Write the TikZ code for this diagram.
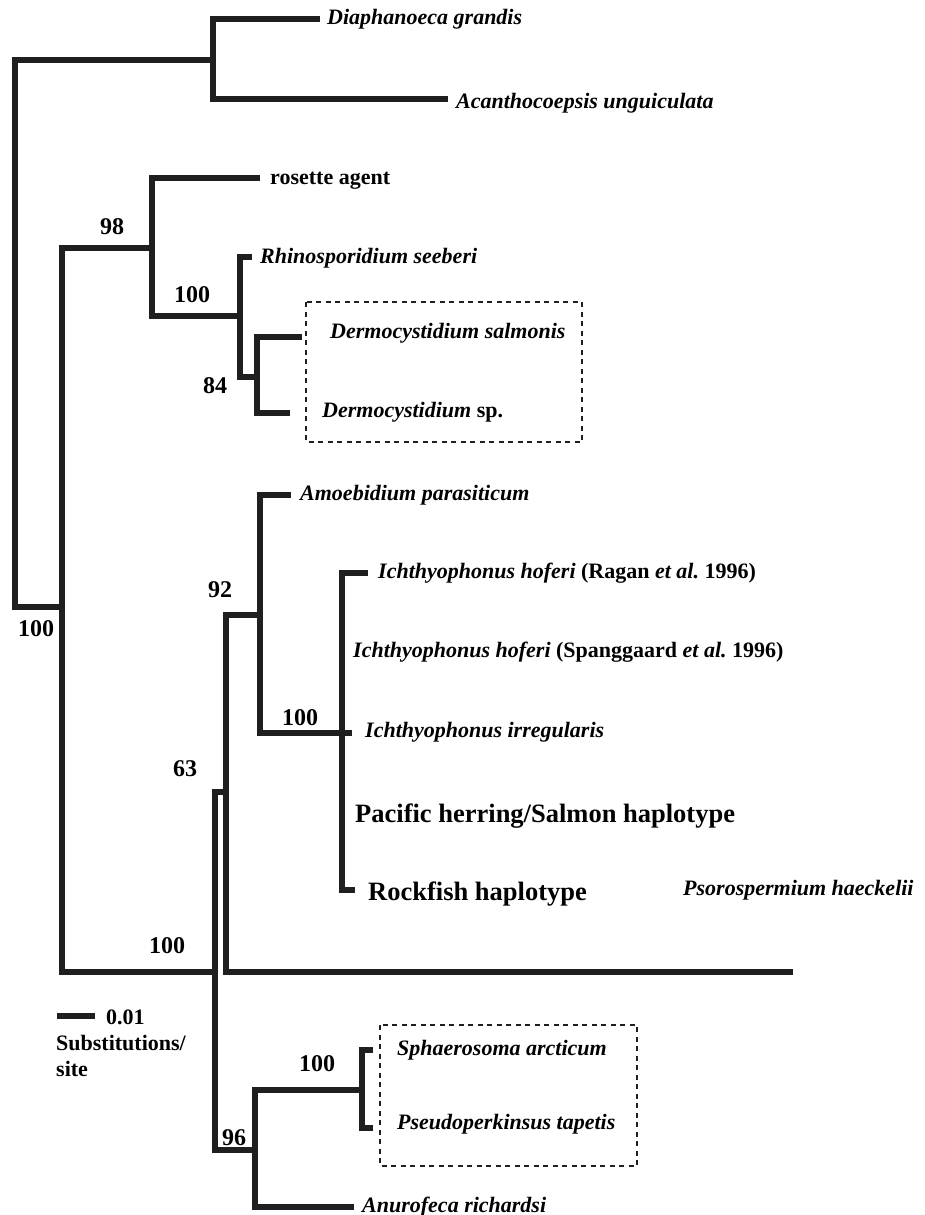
\documentclass[tikz,border=0pt]{standalone}
\usepackage{fontspec}
\setmainfont{Liberation Serif}
\begin{document}
\begin{tikzpicture}[x=1pt,y=-1pt,
  branch/.style={line width=6pt,line join=miter,line cap=butt,color=black!88},
  taxon/.style={anchor=base west,inner sep=0pt,font=\fontsize{22}{26}\selectfont\bfseries\itshape},
  plain/.style={anchor=base west,inner sep=0pt,font=\fontsize{22}{26}\selectfont\bfseries},
  big/.style={anchor=base west,inner sep=0pt,font=\fontsize{26.5}{30}\selectfont\bfseries},
  boot/.style={anchor=base,inner sep=0pt,font=\fontsize{24}{28}\selectfont\bfseries},
  groupbox/.style={line width=2pt,dash pattern=on 5pt off 4.5pt,color=black!88}]
\useasboundingbox (0,0) rectangle (924,1215);
% internal nodes
\coordinate (root) at (15,300);
\coordinate (n1) at (213,60);
\coordinate (n2) at (62,607);
\coordinate (n3) at (152,248);
\coordinate (n5) at (240,316);
\coordinate (n6) at (257,377);
\coordinate (n4) at (215,972);
\coordinate (n7) at (226,792);
\coordinate (n9) at (260,615);
\coordinate (n10) at (342,733);
\coordinate (n8) at (255,1150);
\coordinate (n11) at (362,1090);
% tips
\coordinate (tDia) at (320,19);
\coordinate (tAca) at (448,99);
\coordinate (tRos) at (260,178);
\coordinate (tRhi) at (252,257);
\coordinate (tDsa) at (302,337);
\coordinate (tDsp) at (290,413);
\coordinate (tAmo) at (291,495);
\coordinate (tIrr) at (352,733);
\coordinate (tRag) at (368,573);
\coordinate (tRoc) at (355,890);
\coordinate (tPso) at (793,972);
\coordinate (tSph) at (373,1050);
\coordinate (tPse) at (373,1128);
\coordinate (tAnu) at (354,1207);
\coordinate (sb1) at (57,1016);
\coordinate (sb2) at (95,1016);
% branches
\draw[branch] (n1) -| (root) |- (n2);
\draw[branch] (tDia) -| (n1) |- (tAca);
\draw[branch] (n3) -| (n2) |- (n4);
\draw[branch] (tRos) -| (n3) |- (n5);
\draw[branch] (tRhi) -| (n5) |- (n6);
\draw[branch] (tDsa) -| (n6) |- (tDsp);
\draw[branch] (n7) -| (n4) |- (n8);
\draw[branch] (n9) -| (n7) |- (tPso);
\draw[branch] (tAmo) -| (n9) |- (tIrr);
\draw[branch] (tRag) -| (n10) |- (tRoc);
\draw[branch] (n11) -| (n8) |- (tAnu);
\draw[branch] (tSph) -| (n11) |- (tPse);
\draw[branch] (sb1) -- (sb2);
% dashed boxes
\draw[groupbox] (306,302) rectangle (582,442);
\draw[groupbox] (380,1025) rectangle (637,1166);
% taxa
\node[taxon] (lDia) at (327,25) {Diaphanoeca grandis};
\node[taxon] (lAca) at (456,108) {Acanthocoepsis unguiculata};
\node[plain] (lRos) at (270,184) {rosette agent};
\node[taxon] (lRhi) at (260,263) {Rhinosporidium seeberi};
\node[taxon] (lDsa) at (330,338) {Dermocystidium salmonis};
\node[taxon] (lDsp) at (322,417) {Dermocystidium \upshape sp.};
\node[taxon] (lAmo) at (300,500) {Amoebidium parasiticum};
\node[taxon] (lRag) at (378,578) {Ichthyophonus hoferi \upshape(Ragan \itshape et al.\upshape\ 1996)};
\node[taxon] (lSpa) at (353,657) {Ichthyophonus hoferi \upshape(Spanggaard \itshape et al.\upshape\ 1996)};
\node[taxon] (lIrr) at (365,737) {Ichthyophonus irregularis};
\node[big] (lPac) at (355,822) {Pacific herring/Salmon haplotype};
\node[big] (lRoc) at (368,900) {Rockfish haplotype};
\node[taxon] (lPso) at (683,895) {Psorospermium haeckelii};
\node[taxon] (lSph) at (397,1055) {Sphaerosoma arcticum};
\node[taxon] (lPse) at (397,1129) {Pseudoperkinsus tapetis};
\node[taxon] (lAnu) at (362,1212) {Anurofeca richardsi};
% scale
\node[plain] (sc1) at (106,1024) {0.01};
\node[plain] (sc2) at (56,1050) {Substitutions/};
\node[plain] (sc3) at (56,1076) {site};
% bootstrap values
\node[boot] (b1) at (112,234) {98};
\node[boot] (b2) at (192,302) {100};
\node[boot] (b3) at (215,393) {84};
\node[boot] (b4) at (220,597) {92};
\node[boot] (b5) at (300,725) {100};
\node[boot] (b6) at (185,776) {63};
\node[boot] (b7) at (167,953) {100};
\node[boot] (b8) at (234,1145) {96};
\node[boot] (b9) at (317,1071) {100};
\node[boot] (b10) at (36,636) {100};
\end{tikzpicture}
\end{document}
